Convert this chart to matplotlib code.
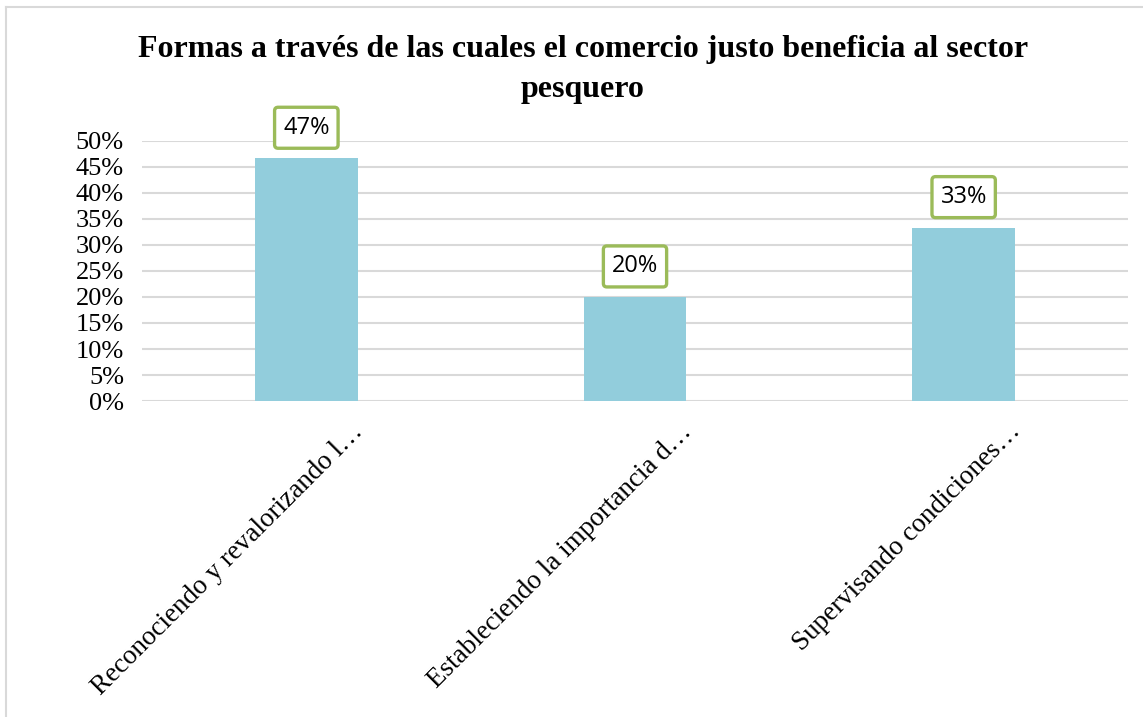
import matplotlib.pyplot as plt
import matplotlib.transforms as mtransforms
from matplotlib.lines import Line2D
from matplotlib.ticker import PercentFormatter

categories = ["Reconociendo y revalorizando l…",
              "Estableciendo la importancia d…",
              "Supervisando condiciones…"]
values = [0.4667, 0.20, 0.3333]
value_labels = ["47%", "20%", "33%"]
title = "Formas a través de las cuales el comercio justo beneficia al sector\npesquero"

BAR_COLOR = "#92CDDC"
BOX_EDGE = "#9BBB59"
GRID_COLOR = "#D9D9D9"

fig = plt.figure(figsize=(11.43, 7.17), dpi=100)
ax = fig.add_axes([142/1143, 1 - 401/717, (1128-142)/1143, (401-141)/717])

x = list(range(len(categories)))
ax.bar(x, values, width=0.313, color=BAR_COLOR, zorder=2)

ax.set_xlim(-0.5, len(categories) - 0.5)
ax.set_ylim(0, 0.5)
ax.set_yticks([i * 0.05 for i in range(11)])
ax.yaxis.set_major_formatter(PercentFormatter(1.0, decimals=0))
ax.grid(axis="y", color=GRID_COLOR, linewidth=1.5, zorder=0)
for s in ax.spines.values():
    s.set_visible(False)
ax.tick_params(axis="y", length=0, pad=13, labelsize=19)
ax.tick_params(axis="x", length=0)
for lab in ax.get_yticklabels():
    lab.set_fontfamily("Liberation Serif")

ax.set_xticks(x)
ax.set_xticklabels(categories, rotation=45, ha="right", va="center",
                   rotation_mode="anchor", fontsize=19.5, family="Liberation Serif")
offset = mtransforms.ScaledTranslation(53/100, -22/100, fig.dpi_scale_trans)
for lab in ax.get_xticklabels():
    lab.set_transform(lab.get_transform() + offset)

for xi, v, t in zip(x, values, value_labels):
    ax.annotate(t, (xi, v), xytext=(0, 22), textcoords="offset points",
                ha="center", va="center", fontsize=17, family="Open Sans",
                bbox=dict(boxstyle="round,pad=0.36,rounding_size=0.15",
                          fc="white", ec=BOX_EDGE, lw=2.4), zorder=3)

fig.text(583/1143, 1 - 69/717, title, ha="center", va="center", fontsize=23,
         fontweight="bold", family="Liberation Serif", linespacing=1.5)

# chart area border (cropped at right/bottom)
fig.add_artist(Line2D([6/1143, 6/1143], [0, 1 - 7/717], transform=fig.transFigure,
                      color=GRID_COLOR, lw=1.5))
fig.add_artist(Line2D([6/1143, 1], [1 - 7/717, 1 - 7/717], transform=fig.transFigure,
                      color=GRID_COLOR, lw=1.5))

fig.savefig("out.png", dpi=100, facecolor="white")
